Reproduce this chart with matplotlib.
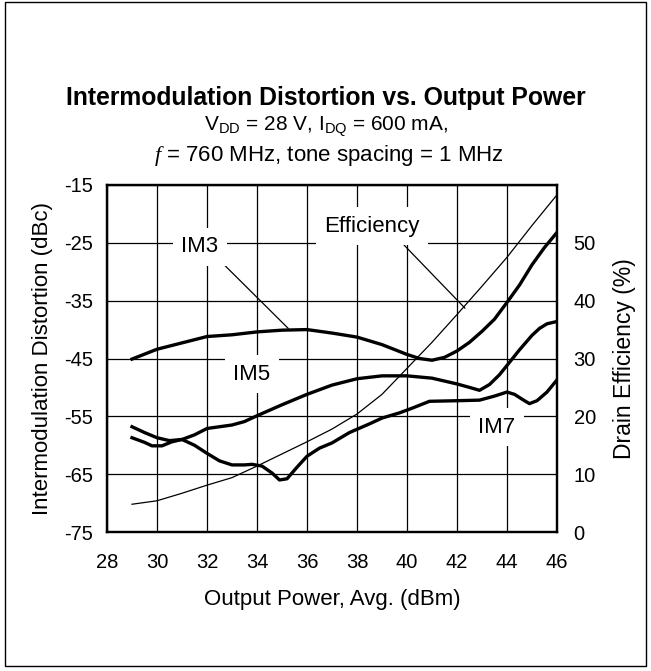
import matplotlib
matplotlib.use("Agg")
import matplotlib.pyplot as plt
from matplotlib.patches import Rectangle

plt.rcParams['font.family'] = ['Liberation Sans', 'DejaVu Sans']
plt.rcParams['mathtext.fontset'] = 'custom'
plt.rcParams['mathtext.rm'] = 'Liberation Sans'
plt.rcParams['mathtext.it'] = 'Liberation Serif:italic'
plt.rcParams['axes.unicode_minus'] = False

# ---- data ----
im3_p = [29, 30, 31, 32, 33, 34, 35, 36, 37, 38, 39, 40, 40.5, 41, 41.5, 42, 42.5, 43, 43.5, 44, 44.5, 45, 45.5, 46]
im3_db = [-45.1, -43.4, -42.3, -41.2, -40.9, -40.4, -40.1, -40.0, -40.6, -41.3, -42.6, -44.3, -45.0, -45.3, -44.8,
          -43.7, -42.2, -40.3, -38.2, -35.3, -32.3, -28.8, -25.8, -23.2]

im5_p = [29, 29.5, 30, 30.5, 31, 31.5, 32, 32.5, 33, 33.5, 34, 35, 36, 37, 38, 39, 40, 41, 42, 42.5, 42.9,
         43.3, 43.7, 44, 44.5, 45, 45.3, 45.6, 46]
im5_db = [-56.8, -57.8, -58.7, -59.2, -59.0, -58.2, -57.1, -56.8, -56.5, -55.9, -54.9, -53.0, -51.2, -49.6,
          -48.5, -48.0, -48.0, -48.4, -49.4, -50.0, -50.5, -49.5, -47.8, -46.2, -43.5, -41.0, -39.8, -39.0, -38.6]

im7_p = [29, 29.5, 29.8, 30.2, 30.6, 31, 31.5, 32, 32.5, 33, 33.5, 33.8, 34.2, 34.6, 34.9, 35.2, 35.6, 36,
         36.5, 37, 37.7, 38.5, 39, 39.7, 40.2, 40.9, 42, 42.9, 43.5, 44.0, 44.3, 44.7, 44.9, 45.2, 45.6, 46]
im7_db = [-58.7, -59.5, -60.1, -60.1, -59.4, -59.0, -60.0, -61.4, -62.7, -63.4, -63.4, -63.3, -63.6, -64.8,
          -66.0, -65.8, -63.8, -61.9, -60.5, -59.6, -57.8, -56.3, -55.3, -54.4, -53.6, -52.4, -52.3, -52.2,
          -51.5, -50.8, -51.2, -52.3, -52.8, -52.3, -50.8, -48.7]

eff_p = [29, 30, 31, 32, 33, 34, 35, 36, 37, 38, 39, 40, 41, 42, 43, 44, 45, 46]
eff_pct = [4.8, 5.4, 6.7, 8.1, 9.4, 11.4, 13.5, 15.6, 17.8, 20.4, 23.8, 28.3, 32.8, 37.6, 42.5, 47.5, 53.0, 58.3]

x_ticks = [28, 30, 32, 34, 36, 38, 40, 42, 44, 46]
y_ticks = [-75, -65, -55, -45, -35, -25, -15]
y2_ticks = [0, 10, 20, 30, 40, 50]

title = "Intermodulation Distortion vs. Output Power"
sub1 = r"V$_\mathrm{DD}$ = 28 V, I$_\mathrm{DQ}$ = 600 mA,"
sub2 = r"$f$ = 760 MHz, tone spacing = 1 MHz"

# ---- figure ----
W, H = 651, 671
fig = plt.figure(figsize=(W / 100, H / 100), dpi=100)
fig.patches.append(Rectangle((5 / W, 1 - 666 / H), 641 / W, 664 / H, transform=fig.transFigure,
                             fill=False, edgecolor='black', linewidth=1.0))

ax = fig.add_axes([107 / W, 1 - 532 / H, 450 / W, 347 / H])
ax.set_xlim(28, 46)
ax.set_ylim(-75, -15)
ax.set_xticks(x_ticks)
ax.set_yticks(y_ticks)
ax.grid(True, color='black', linewidth=0.9)
ax.set_axisbelow(True)
ax.tick_params(axis='x', length=0, labelsize=14.5, pad=15)
ax.tick_params(axis='y', length=0, labelsize=14.5, pad=10)
for s in ax.spines.values():
    s.set_linewidth(1.6)

ax2 = ax.twinx()
ax2.set_ylim(0, 60)
ax2.set_yticks(y2_ticks)
ax2.tick_params(length=0, labelsize=14.5, pad=12)
for s in ax2.spines.values():
    s.set_linewidth(1.6)

ax.plot(im3_p, im3_db, color='black', linewidth=2.4, zorder=5)
ax.plot(im5_p, im5_db, color='black', linewidth=2.4, zorder=5)
ax.plot(im7_p, im7_db, color='black', linewidth=2.4, zorder=5)
ax2.plot(eff_p, eff_pct, color='black', linewidth=0.9, zorder=5)

ax.set_xlabel("Output Power, Avg. (dBm)", fontsize=16, labelpad=12)
ax.set_ylabel("Intermodulation Distortion (dBc)", fontsize=16, labelpad=8)
ax2.set_ylabel("Drain Efficiency (%)", fontsize=16.5, labelpad=12)

box = dict(facecolor='white', edgecolor='none', pad=6)
ax.annotate("IM3", xy=(35.25, -39.8), xytext=(31.72, -25.7), fontsize=16, ha='center', va='center',
            bbox=box, arrowprops=dict(arrowstyle='-', color='black', linewidth=0.9, shrinkA=0, shrinkB=0,
                                      relpos=(0.95, 0.0)), zorder=3)
ax.annotate("Efficiency", xy=(42.32, -36.3), xytext=(38.6, -22.1), fontsize=16, ha='center', va='center',
            bbox=box, arrowprops=dict(arrowstyle='-', color='black', linewidth=0.9, shrinkA=0, shrinkB=0,
                                      relpos=(0.75, 0.0)), zorder=3)
ax.text(33.8, -47.7, "IM5", fontsize=16, ha='center', va='center', bbox=box, zorder=3)
ax.text(43.6, -56.9, "IM7", fontsize=16, ha='center', va='center', bbox=box, zorder=3)

fig.text(0.5, 1 - 98 / H, title, fontsize=17.8, fontweight='bold', ha='center', va='center')
fig.text(0.5, 1 - 127 / H, sub1, fontsize=15, ha='center', va='center')
fig.text(0.505, 1 - 156 / H, sub2, fontsize=16, ha='center', va='center')

fig.savefig("out.png", dpi=100)
